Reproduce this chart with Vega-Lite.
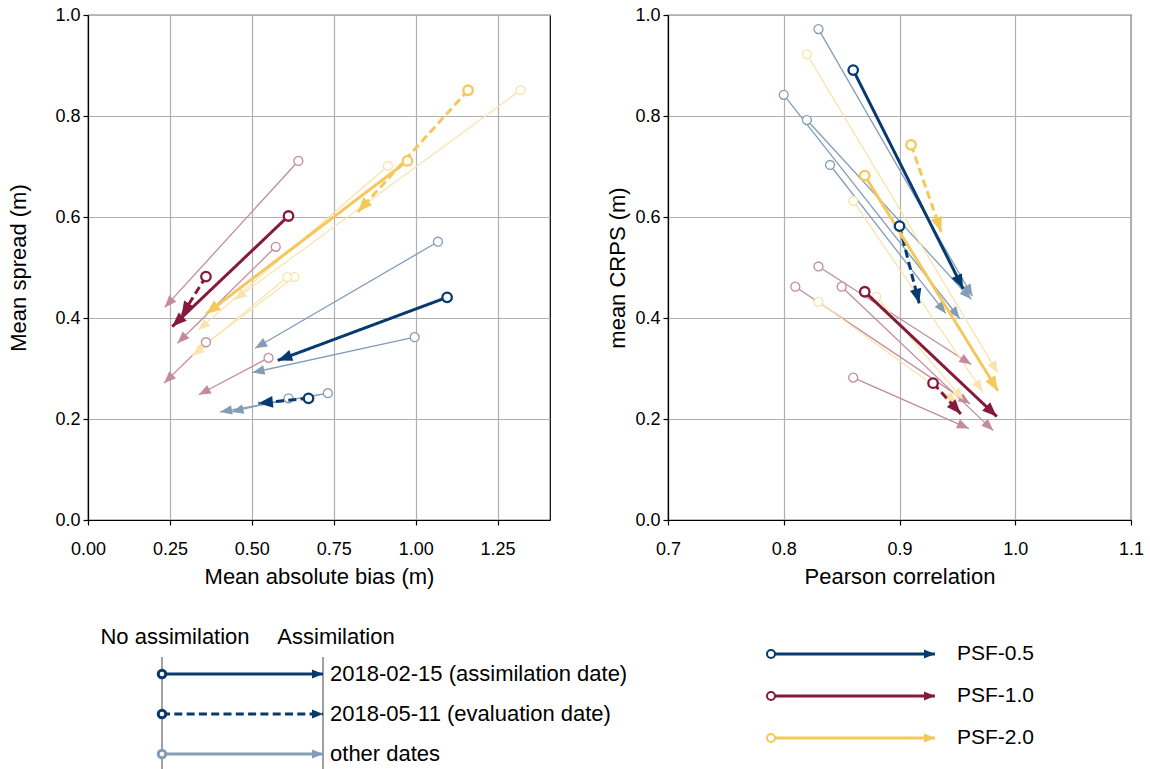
{
  "$schema": "https://vega.github.io/schema/vega-lite/v6.json",
  "background": "white",
  "padding": {"left": 7, "top": 5, "right": 5, "bottom": 0},
  "config": {
    "font": "Liberation Sans",
    "view": {"stroke": "black", "strokeWidth": 1.2},
    "axis": {"grid": true, "gridColor": "#b0b0b0", "gridWidth": 1.2, "domainColor": "black", "domainWidth": 1.2, "tickColor": "black", "tickSize": 5, "tickWidth": 1.2, "labelFontSize": 18, "labelColor": "black", "labelPadding": 3, "labelFlush": false, "titleFontSize": 22, "titleFontWeight": "normal", "titleColor": "black"},
    "axisX": {"labelPadding": 15},
    "text": {"fontSize": 22, "color": "black"}
  },
  "resolve": {"scale": {"stroke": "independent", "fill": "independent", "strokeDash": "independent", "strokeWidth": "independent", "size": "independent", "color": "independent"}},
  "datasets": {
    "arrows": [
      {"p":"bias","m":"PSF-0.5","k":"assim","x0":1.096,"y0":0.441,"x1":0.579,"y1":0.316},
      {"p":"bias","m":"PSF-0.5","k":"eval","x0":0.673,"y0":0.241,"x1":0.520,"y1":0.231},
      {"p":"bias","m":"PSF-0.5","k":"other","x0":1.068,"y0":0.551,"x1":0.510,"y1":0.340},
      {"p":"bias","m":"PSF-0.5","k":"other","x0":0.997,"y0":0.362,"x1":0.502,"y1":0.292},
      {"p":"bias","m":"PSF-0.5","k":"other","x0":0.732,"y0":0.251,"x1":0.403,"y1":0.214},
      {"p":"bias","m":"PSF-0.5","k":"other","x0":0.612,"y0":0.241,"x1":0.438,"y1":0.214},
      {"p":"bias","m":"PSF-1.0","k":"assim","x0":0.612,"y0":0.602,"x1":0.257,"y1":0.383},
      {"p":"bias","m":"PSF-1.0","k":"eval","x0":0.360,"y0":0.482,"x1":0.285,"y1":0.404},
      {"p":"bias","m":"PSF-1.0","k":"other","x0":0.642,"y0":0.711,"x1":0.234,"y1":0.421},
      {"p":"bias","m":"PSF-1.0","k":"other","x0":0.573,"y0":0.541,"x1":0.273,"y1":0.350},
      {"p":"bias","m":"PSF-1.0","k":"other","x0":0.360,"y0":0.352,"x1":0.232,"y1":0.271},
      {"p":"bias","m":"PSF-1.0","k":"other","x0":0.551,"y0":0.321,"x1":0.338,"y1":0.248},
      {"p":"bias","m":"PSF-2.0","k":"assim","x0":0.975,"y0":0.711,"x1":0.360,"y1":0.408},
      {"p":"bias","m":"PSF-2.0","k":"eval","x0":1.160,"y0":0.851,"x1":0.824,"y1":0.610},
      {"p":"bias","m":"PSF-2.0","k":"other","x0":1.320,"y0":0.851,"x1":0.447,"y1":0.436},
      {"p":"bias","m":"PSF-2.0","k":"other","x0":0.915,"y0":0.701,"x1":0.336,"y1":0.376},
      {"p":"bias","m":"PSF-2.0","k":"other","x0":0.630,"y0":0.481,"x1":0.330,"y1":0.335},
      {"p":"bias","m":"PSF-2.0","k":"other","x0":0.608,"y0":0.481,"x1":0.318,"y1":0.325},
      {"p":"crps","m":"PSF-0.5","k":"assim","x0":0.860,"y0":0.891,"x1":0.955,"y1":0.458},
      {"p":"crps","m":"PSF-0.5","k":"eval","x0":0.900,"y0":0.582,"x1":0.917,"y1":0.429},
      {"p":"crps","m":"PSF-0.5","k":"other","x0":0.830,"y0":0.972,"x1":0.963,"y1":0.443},
      {"p":"crps","m":"PSF-0.5","k":"other","x0":0.800,"y0":0.842,"x1":0.952,"y1":0.399},
      {"p":"crps","m":"PSF-0.5","k":"other","x0":0.820,"y0":0.792,"x1":0.962,"y1":0.437},
      {"p":"crps","m":"PSF-0.5","k":"other","x0":0.840,"y0":0.703,"x1":0.940,"y1":0.409},
      {"p":"crps","m":"PSF-1.0","k":"assim","x0":0.870,"y0":0.452,"x1":0.984,"y1":0.205},
      {"p":"crps","m":"PSF-1.0","k":"eval","x0":0.929,"y0":0.271,"x1":0.953,"y1":0.210},
      {"p":"crps","m":"PSF-1.0","k":"other","x0":0.830,"y0":0.502,"x1":0.962,"y1":0.308},
      {"p":"crps","m":"PSF-1.0","k":"other","x0":0.810,"y0":0.462,"x1":0.961,"y1":0.230},
      {"p":"crps","m":"PSF-1.0","k":"other","x0":0.850,"y0":0.462,"x1":0.981,"y1":0.177},
      {"p":"crps","m":"PSF-1.0","k":"other","x0":0.860,"y0":0.282,"x1":0.960,"y1":0.181},
      {"p":"crps","m":"PSF-2.0","k":"assim","x0":0.870,"y0":0.682,"x1":0.985,"y1":0.256},
      {"p":"crps","m":"PSF-2.0","k":"eval","x0":0.910,"y0":0.743,"x1":0.936,"y1":0.571},
      {"p":"crps","m":"PSF-2.0","k":"other","x0":0.820,"y0":0.922,"x1":0.985,"y1":0.291},
      {"p":"crps","m":"PSF-2.0","k":"other","x0":0.860,"y0":0.632,"x1":0.972,"y1":0.254},
      {"p":"crps","m":"PSF-2.0","k":"other","x0":0.880,"y0":0.442,"x1":0.955,"y1":0.238},
      {"p":"crps","m":"PSF-2.0","k":"other","x0":0.830,"y0":0.432,"x1":0.950,"y1":0.232}
    ],
    "legA": [
      {"row":0,"k":"assim","label":"2018-02-15 (assimilation date)"},
      {"row":1,"k":"eval","label":"2018-05-11 (evaluation date)"},
      {"row":2,"k":"other","label":"other dates"}
    ],
    "legH": [
      {"side":0,"h":"No assimilation"},
      {"side":1,"h":"Assimilation"}
    ],
    "legB": [
      {"row":0,"m":"PSF-0.5"},
      {"row":1,"m":"PSF-1.0"},
      {"row":2,"m":"PSF-2.0"}
    ]
  },
  "vconcat": [
    {
      "hconcat": [
        {
          "width": 462, "height": 505,
          "data": {"name": "arrows"},
          "transform": [
            {"filter": "datum.p === 'bias'"},
            {"calculate": "atan2(-(datum.y1-datum.y0)*505, (datum.x1-datum.x0)*327.66)*180/PI", "as": "ang"}
          ],
          "layer": [
            {"transform": [{"filter": "datum.k === 'other'"}],
             "mark": {"type": "rule", "strokeWidth": 1.3},
             "encoding": {
               "x": {"field": "x0", "type": "quantitative", "scale": {"domain": [0, 1.41], "nice": false, "zero": false}, "axis": {"values": [0, 0.25, 0.5, 0.75, 1, 1.25], "format": ".2f", "title": "Mean absolute bias (m)", "titlePadding": 8}},
               "y": {"field": "y0", "type": "quantitative", "scale": {"domain": [0, 1], "nice": false, "zero": false}, "axis": {"values": [0, 0.2, 0.4, 0.6, 0.8, 1], "format": ".1f", "title": "Mean spread (m)", "titlePadding": 24}},
               "x2": {"field": "x1"}, "y2": {"field": "y1"},
               "stroke": {"field": "m", "type": "nominal", "scale": {"domain": ["PSF-0.5", "PSF-1.0", "PSF-2.0"], "range": ["#839db7", "#c38c9e", "#fae4ad"]}, "legend": null}
             }},
            {"transform": [{"filter": "datum.k === 'other'"}],
             "mark": {"type": "point", "shape": "M0,0L-1,-0.4L-1,0.4Z", "filled": true, "size": 576, "opacity": 1, "strokeWidth": 0},
             "encoding": {
               "x": {"field": "x1", "type": "quantitative", "scale": {"domain": [0, 1.41], "nice": false, "zero": false}, "axis": {"values": [0, 0.25, 0.5, 0.75, 1, 1.25], "format": ".2f", "title": "Mean absolute bias (m)", "titlePadding": 8}},
               "y": {"field": "y1", "type": "quantitative", "scale": {"domain": [0, 1], "nice": false, "zero": false}, "axis": {"values": [0, 0.2, 0.4, 0.6, 0.8, 1], "format": ".1f", "title": "Mean spread (m)", "titlePadding": 24}},
               "angle": {"field": "ang", "type": "quantitative", "scale": null},
               "fill": {"field": "m", "type": "nominal", "scale": {"domain": ["PSF-0.5", "PSF-1.0", "PSF-2.0"], "range": ["#839db7", "#c38c9e", "#fae4ad"]}, "legend": null}
             }},
            {"transform": [{"filter": "datum.k === 'other'"}],
             "mark": {"type": "point", "shape": "circle", "filled": false, "fill": "white", "size": 80, "strokeWidth": 1.3, "opacity": 1},
             "encoding": {
               "x": {"field": "x0", "type": "quantitative", "scale": {"domain": [0, 1.41], "nice": false, "zero": false}, "axis": {"values": [0, 0.25, 0.5, 0.75, 1, 1.25], "format": ".2f", "title": "Mean absolute bias (m)", "titlePadding": 8}},
               "y": {"field": "y0", "type": "quantitative", "scale": {"domain": [0, 1], "nice": false, "zero": false}, "axis": {"values": [0, 0.2, 0.4, 0.6, 0.8, 1], "format": ".1f", "title": "Mean spread (m)", "titlePadding": 24}},
               "stroke": {"field": "m", "type": "nominal", "scale": {"domain": ["PSF-0.5", "PSF-1.0", "PSF-2.0"], "range": ["#839db7", "#c38c9e", "#fae4ad"]}, "legend": null}
             }},
            {"transform": [{"filter": "datum.k !== 'other'"}],
             "mark": {"type": "rule", "strokeWidth": 3},
             "encoding": {
               "x": {"field": "x0", "type": "quantitative", "scale": {"domain": [0, 1.41], "nice": false, "zero": false}, "axis": {"values": [0, 0.25, 0.5, 0.75, 1, 1.25], "format": ".2f", "title": "Mean absolute bias (m)", "titlePadding": 8}},
               "y": {"field": "y0", "type": "quantitative", "scale": {"domain": [0, 1], "nice": false, "zero": false}, "axis": {"values": [0, 0.2, 0.4, 0.6, 0.8, 1], "format": ".1f", "title": "Mean spread (m)", "titlePadding": 24}},
               "x2": {"field": "x1"}, "y2": {"field": "y1"},
               "color": {"field": "m", "type": "nominal", "scale": {"domain": ["PSF-0.5", "PSF-1.0", "PSF-2.0"], "range": ["#073b6f", "#86193c", "#f5c85a"]}, "legend": null},
               "strokeDash": {"field": "k", "type": "nominal", "scale": {"domain": ["assim", "eval"], "range": [[1, 0], [8, 4.3]]}, "legend": null}
             }},
            {"transform": [{"filter": "datum.k !== 'other'"}],
             "mark": {"type": "point", "shape": "M0,0L-1,-0.4L-1,0.4Z", "filled": true, "size": 841, "opacity": 1, "strokeWidth": 0},
             "encoding": {
               "x": {"field": "x1", "type": "quantitative", "scale": {"domain": [0, 1.41], "nice": false, "zero": false}, "axis": {"values": [0, 0.25, 0.5, 0.75, 1, 1.25], "format": ".2f", "title": "Mean absolute bias (m)", "titlePadding": 8}},
               "y": {"field": "y1", "type": "quantitative", "scale": {"domain": [0, 1], "nice": false, "zero": false}, "axis": {"values": [0, 0.2, 0.4, 0.6, 0.8, 1], "format": ".1f", "title": "Mean spread (m)", "titlePadding": 24}},
               "angle": {"field": "ang", "type": "quantitative", "scale": null},
               "color": {"field": "m", "type": "nominal", "scale": {"domain": ["PSF-0.5", "PSF-1.0", "PSF-2.0"], "range": ["#073b6f", "#86193c", "#f5c85a"]}, "legend": null}
             }},
            {"transform": [{"filter": "datum.k !== 'other'"}],
             "mark": {"type": "point", "shape": "circle", "filled": false, "fill": "white", "size": 90, "strokeWidth": 2.3, "opacity": 1},
             "encoding": {
               "x": {"field": "x0", "type": "quantitative", "scale": {"domain": [0, 1.41], "nice": false, "zero": false}, "axis": {"values": [0, 0.25, 0.5, 0.75, 1, 1.25], "format": ".2f", "title": "Mean absolute bias (m)", "titlePadding": 8}},
               "y": {"field": "y0", "type": "quantitative", "scale": {"domain": [0, 1], "nice": false, "zero": false}, "axis": {"values": [0, 0.2, 0.4, 0.6, 0.8, 1], "format": ".1f", "title": "Mean spread (m)", "titlePadding": 24}},
               "color": {"field": "m", "type": "nominal", "scale": {"domain": ["PSF-0.5", "PSF-1.0", "PSF-2.0"], "range": ["#073b6f", "#86193c", "#f5c85a"]}, "legend": null}
             }}
          ]
        },
        {
          "width": 463, "height": 505,
          "data": {"name": "arrows"},
          "transform": [
            {"filter": "datum.p === 'crps'"},
            {"calculate": "atan2(-(datum.y1-datum.y0)*505, (datum.x1-datum.x0)*1157.5)*180/PI", "as": "ang"}
          ],
          "layer": [
            {"transform": [{"filter": "datum.k === 'other'"}],
             "mark": {"type": "rule", "strokeWidth": 1.3},
             "encoding": {
               "x": {"field": "x0", "type": "quantitative", "scale": {"domain": [0.7, 1.1], "nice": false, "zero": false}, "axis": {"values": [0.7, 0.8, 0.9, 1.0, 1.1], "format": ".1f", "title": "Pearson correlation", "titlePadding": 8}},
               "y": {"field": "y0", "type": "quantitative", "scale": {"domain": [0, 1], "nice": false, "zero": false}, "axis": {"values": [0, 0.2, 0.4, 0.6, 0.8, 1], "format": ".1f", "title": "mean CRPS (m)", "titlePadding": 5}},
               "x2": {"field": "x1"}, "y2": {"field": "y1"},
               "stroke": {"field": "m", "type": "nominal", "scale": {"domain": ["PSF-0.5", "PSF-1.0", "PSF-2.0"], "range": ["#839db7", "#c38c9e", "#fae4ad"]}, "legend": null}
             }},
            {"transform": [{"filter": "datum.k === 'other'"}],
             "mark": {"type": "point", "shape": "M0,0L-1,-0.4L-1,0.4Z", "filled": true, "size": 576, "opacity": 1, "strokeWidth": 0},
             "encoding": {
               "x": {"field": "x1", "type": "quantitative", "scale": {"domain": [0.7, 1.1], "nice": false, "zero": false}, "axis": {"values": [0.7, 0.8, 0.9, 1.0, 1.1], "format": ".1f", "title": "Pearson correlation", "titlePadding": 8}},
               "y": {"field": "y1", "type": "quantitative", "scale": {"domain": [0, 1], "nice": false, "zero": false}, "axis": {"values": [0, 0.2, 0.4, 0.6, 0.8, 1], "format": ".1f", "title": "mean CRPS (m)", "titlePadding": 5}},
               "angle": {"field": "ang", "type": "quantitative", "scale": null},
               "fill": {"field": "m", "type": "nominal", "scale": {"domain": ["PSF-0.5", "PSF-1.0", "PSF-2.0"], "range": ["#839db7", "#c38c9e", "#fae4ad"]}, "legend": null}
             }},
            {"transform": [{"filter": "datum.k === 'other'"}],
             "mark": {"type": "point", "shape": "circle", "filled": false, "fill": "white", "size": 80, "strokeWidth": 1.3, "opacity": 1},
             "encoding": {
               "x": {"field": "x0", "type": "quantitative", "scale": {"domain": [0.7, 1.1], "nice": false, "zero": false}, "axis": {"values": [0.7, 0.8, 0.9, 1.0, 1.1], "format": ".1f", "title": "Pearson correlation", "titlePadding": 8}},
               "y": {"field": "y0", "type": "quantitative", "scale": {"domain": [0, 1], "nice": false, "zero": false}, "axis": {"values": [0, 0.2, 0.4, 0.6, 0.8, 1], "format": ".1f", "title": "mean CRPS (m)", "titlePadding": 5}},
               "stroke": {"field": "m", "type": "nominal", "scale": {"domain": ["PSF-0.5", "PSF-1.0", "PSF-2.0"], "range": ["#839db7", "#c38c9e", "#fae4ad"]}, "legend": null}
             }},
            {"transform": [{"filter": "datum.k !== 'other'"}],
             "mark": {"type": "rule", "strokeWidth": 3},
             "encoding": {
               "x": {"field": "x0", "type": "quantitative", "scale": {"domain": [0.7, 1.1], "nice": false, "zero": false}, "axis": {"values": [0.7, 0.8, 0.9, 1.0, 1.1], "format": ".1f", "title": "Pearson correlation", "titlePadding": 8}},
               "y": {"field": "y0", "type": "quantitative", "scale": {"domain": [0, 1], "nice": false, "zero": false}, "axis": {"values": [0, 0.2, 0.4, 0.6, 0.8, 1], "format": ".1f", "title": "mean CRPS (m)", "titlePadding": 5}},
               "x2": {"field": "x1"}, "y2": {"field": "y1"},
               "color": {"field": "m", "type": "nominal", "scale": {"domain": ["PSF-0.5", "PSF-1.0", "PSF-2.0"], "range": ["#073b6f", "#86193c", "#f5c85a"]}, "legend": null},
               "strokeDash": {"field": "k", "type": "nominal", "scale": {"domain": ["assim", "eval"], "range": [[1, 0], [8, 4.3]]}, "legend": null}
             }},
            {"transform": [{"filter": "datum.k !== 'other'"}],
             "mark": {"type": "point", "shape": "M0,0L-1,-0.4L-1,0.4Z", "filled": true, "size": 841, "opacity": 1, "strokeWidth": 0},
             "encoding": {
               "x": {"field": "x1", "type": "quantitative", "scale": {"domain": [0.7, 1.1], "nice": false, "zero": false}, "axis": {"values": [0.7, 0.8, 0.9, 1.0, 1.1], "format": ".1f", "title": "Pearson correlation", "titlePadding": 8}},
               "y": {"field": "y1", "type": "quantitative", "scale": {"domain": [0, 1], "nice": false, "zero": false}, "axis": {"values": [0, 0.2, 0.4, 0.6, 0.8, 1], "format": ".1f", "title": "mean CRPS (m)", "titlePadding": 5}},
               "angle": {"field": "ang", "type": "quantitative", "scale": null},
               "color": {"field": "m", "type": "nominal", "scale": {"domain": ["PSF-0.5", "PSF-1.0", "PSF-2.0"], "range": ["#073b6f", "#86193c", "#f5c85a"]}, "legend": null}
             }},
            {"transform": [{"filter": "datum.k !== 'other'"}],
             "mark": {"type": "point", "shape": "circle", "filled": false, "fill": "white", "size": 90, "strokeWidth": 2.3, "opacity": 1},
             "encoding": {
               "x": {"field": "x0", "type": "quantitative", "scale": {"domain": [0.7, 1.1], "nice": false, "zero": false}, "axis": {"values": [0.7, 0.8, 0.9, 1.0, 1.1], "format": ".1f", "title": "Pearson correlation", "titlePadding": 8}},
               "y": {"field": "y0", "type": "quantitative", "scale": {"domain": [0, 1], "nice": false, "zero": false}, "axis": {"values": [0, 0.2, 0.4, 0.6, 0.8, 1], "format": ".1f", "title": "mean CRPS (m)", "titlePadding": 5}},
               "color": {"field": "m", "type": "nominal", "scale": {"domain": ["PSF-0.5", "PSF-1.0", "PSF-2.0"], "range": ["#073b6f", "#86193c", "#f5c85a"]}, "legend": null}
             }}
          ]
        }
      ],
      "spacing": 55
    },
    {
      "hconcat": [
        {
          "width": 640, "height": 154,
          "view": {"stroke": null},
          "layer": [
            {"data": {"name": "legH"},
             "mark": {"type": "rule", "color": "#444", "strokeWidth": 1},
             "encoding": {
               "x": {"field": "side", "type": "quantitative", "scale": {"domain": [-0.4596, 3.515], "nice": false, "zero": false}, "axis": null},
               "y": {"datum": -0.425, "type": "quantitative", "scale": {"domain": [-1.475, 2.375], "nice": false, "zero": false, "reverse": true}, "axis": null},
               "y2": {"datum": 2.6}
             }},
            {"data": {"name": "legH"},
             "mark": {"type": "text", "fontSize": 22, "align": "center", "baseline": "middle", "dx": 13},
             "encoding": {
               "x": {"field": "side", "type": "quantitative", "scale": {"domain": [-0.4596, 3.515], "nice": false, "zero": false}, "axis": null},
               "y": {"datum": -0.925, "type": "quantitative", "scale": {"domain": [-1.475, 2.375], "nice": false, "zero": false, "reverse": true}, "axis": null},
               "text": {"field": "h"}
             }},
            {"data": {"name": "legA"},
             "mark": {"type": "rule"},
             "encoding": {
               "x": {"datum": 0, "type": "quantitative", "scale": {"domain": [-0.4596, 3.515], "nice": false, "zero": false}, "axis": null},
               "x2": {"datum": 1},
               "y": {"field": "row", "type": "quantitative", "scale": {"domain": [-1.475, 2.375], "nice": false, "zero": false, "reverse": true}, "axis": null},
               "stroke": {"field": "k", "type": "nominal", "scale": {"domain": ["assim", "eval", "other"], "range": ["#073b6f", "#073b6f", "#839db7"]}, "legend": null},
               "strokeWidth": {"field": "k", "type": "nominal", "scale": {"domain": ["assim", "eval", "other"], "range": [3, 3, 1.5]}, "legend": null},
               "strokeDash": {"field": "k", "type": "nominal", "scale": {"domain": ["assim", "eval", "other"], "range": [[1, 0], [8, 4.3], [1, 0]]}, "legend": null}
             }},
            {"data": {"name": "legA"},
             "mark": {"type": "point", "shape": "M0,0L-1,-0.4L-1,0.4Z", "filled": true, "size": 484, "opacity": 1, "strokeWidth": 0},
             "encoding": {
               "x": {"datum": 1, "type": "quantitative", "scale": {"domain": [-0.4596, 3.515], "nice": false, "zero": false}, "axis": null},
               "y": {"field": "row", "type": "quantitative", "scale": {"domain": [-1.475, 2.375], "nice": false, "zero": false, "reverse": true}, "axis": null},
               "fill": {"field": "k", "type": "nominal", "scale": {"domain": ["assim", "eval", "other"], "range": ["#073b6f", "#073b6f", "#839db7"]}, "legend": null}
             }},
            {"data": {"name": "legA"},
             "mark": {"type": "point", "shape": "circle", "filled": false, "fill": "white", "opacity": 1},
             "encoding": {
               "x": {"datum": 0, "type": "quantitative", "scale": {"domain": [-0.4596, 3.515], "nice": false, "zero": false}, "axis": null},
               "y": {"field": "row", "type": "quantitative", "scale": {"domain": [-1.475, 2.375], "nice": false, "zero": false, "reverse": true}, "axis": null},
               "stroke": {"field": "k", "type": "nominal", "scale": {"domain": ["assim", "eval", "other"], "range": ["#073b6f", "#073b6f", "#839db7"]}, "legend": null},
               "strokeWidth": {"field": "k", "type": "nominal", "scale": {"domain": ["assim", "eval", "other"], "range": [2, 2, 1.2]}, "legend": null},
               "size": {"field": "k", "type": "nominal", "scale": {"domain": ["assim", "eval", "other"], "range": [57, 57, 40]}, "legend": null}
             }},
            {"data": {"name": "legA"},
             "mark": {"type": "text", "fontSize": 22, "align": "left", "baseline": "middle", "dx": 7},
             "encoding": {
               "x": {"datum": 1, "type": "quantitative", "scale": {"domain": [-0.4596, 3.515], "nice": false, "zero": false}, "axis": null},
               "y": {"field": "row", "type": "quantitative", "scale": {"domain": [-1.475, 2.375], "nice": false, "zero": false, "reverse": true}, "axis": null},
               "text": {"field": "label"}
             }}
          ]
        },
        {
          "width": 400, "height": 154,
          "view": {"stroke": null},
          "data": {"name": "legB"},
          "layer": [
            {"mark": {"type": "rule", "strokeWidth": 2.8},
             "encoding": {
               "x": {"datum": 0, "type": "quantitative", "scale": {"domain": [-0.2622, 2.177], "nice": false, "zero": false}, "axis": null},
               "x2": {"datum": 1},
               "y": {"field": "row", "type": "quantitative", "scale": {"domain": [-0.929, 2.738], "nice": false, "zero": false, "reverse": true}, "axis": null},
               "color": {"field": "m", "type": "nominal", "scale": {"domain": ["PSF-0.5", "PSF-1.0", "PSF-2.0"], "range": ["#073b6f", "#86193c", "#f5c85a"]}, "legend": null}
             }},
            {"mark": {"type": "point", "shape": "M0,0L-1,-0.4L-1,0.4Z", "filled": true, "size": 484, "opacity": 1, "strokeWidth": 0},
             "encoding": {
               "x": {"datum": 1, "type": "quantitative", "scale": {"domain": [-0.2622, 2.177], "nice": false, "zero": false}, "axis": null},
               "y": {"field": "row", "type": "quantitative", "scale": {"domain": [-0.929, 2.738], "nice": false, "zero": false, "reverse": true}, "axis": null},
               "color": {"field": "m", "type": "nominal", "scale": {"domain": ["PSF-0.5", "PSF-1.0", "PSF-2.0"], "range": ["#073b6f", "#86193c", "#f5c85a"]}, "legend": null}
             }},
            {"mark": {"type": "point", "shape": "circle", "filled": false, "fill": "white", "size": 64, "strokeWidth": 2, "opacity": 1},
             "encoding": {
               "x": {"datum": 0, "type": "quantitative", "scale": {"domain": [-0.2622, 2.177], "nice": false, "zero": false}, "axis": null},
               "y": {"field": "row", "type": "quantitative", "scale": {"domain": [-0.929, 2.738], "nice": false, "zero": false, "reverse": true}, "axis": null},
               "color": {"field": "m", "type": "nominal", "scale": {"domain": ["PSF-0.5", "PSF-1.0", "PSF-2.0"], "range": ["#073b6f", "#86193c", "#f5c85a"]}, "legend": null}
             }},
            {"mark": {"type": "text", "fontSize": 21, "align": "left", "baseline": "middle", "dx": 22},
             "encoding": {
               "x": {"datum": 1, "type": "quantitative", "scale": {"domain": [-0.2622, 2.177], "nice": false, "zero": false}, "axis": null},
               "y": {"field": "row", "type": "quantitative", "scale": {"domain": [-0.929, 2.738], "nice": false, "zero": false, "reverse": true}, "axis": null},
               "text": {"field": "m"}
             }}
          ]
        }
      ],
      "spacing": 0
    }
  ],
  "spacing": 27
}
